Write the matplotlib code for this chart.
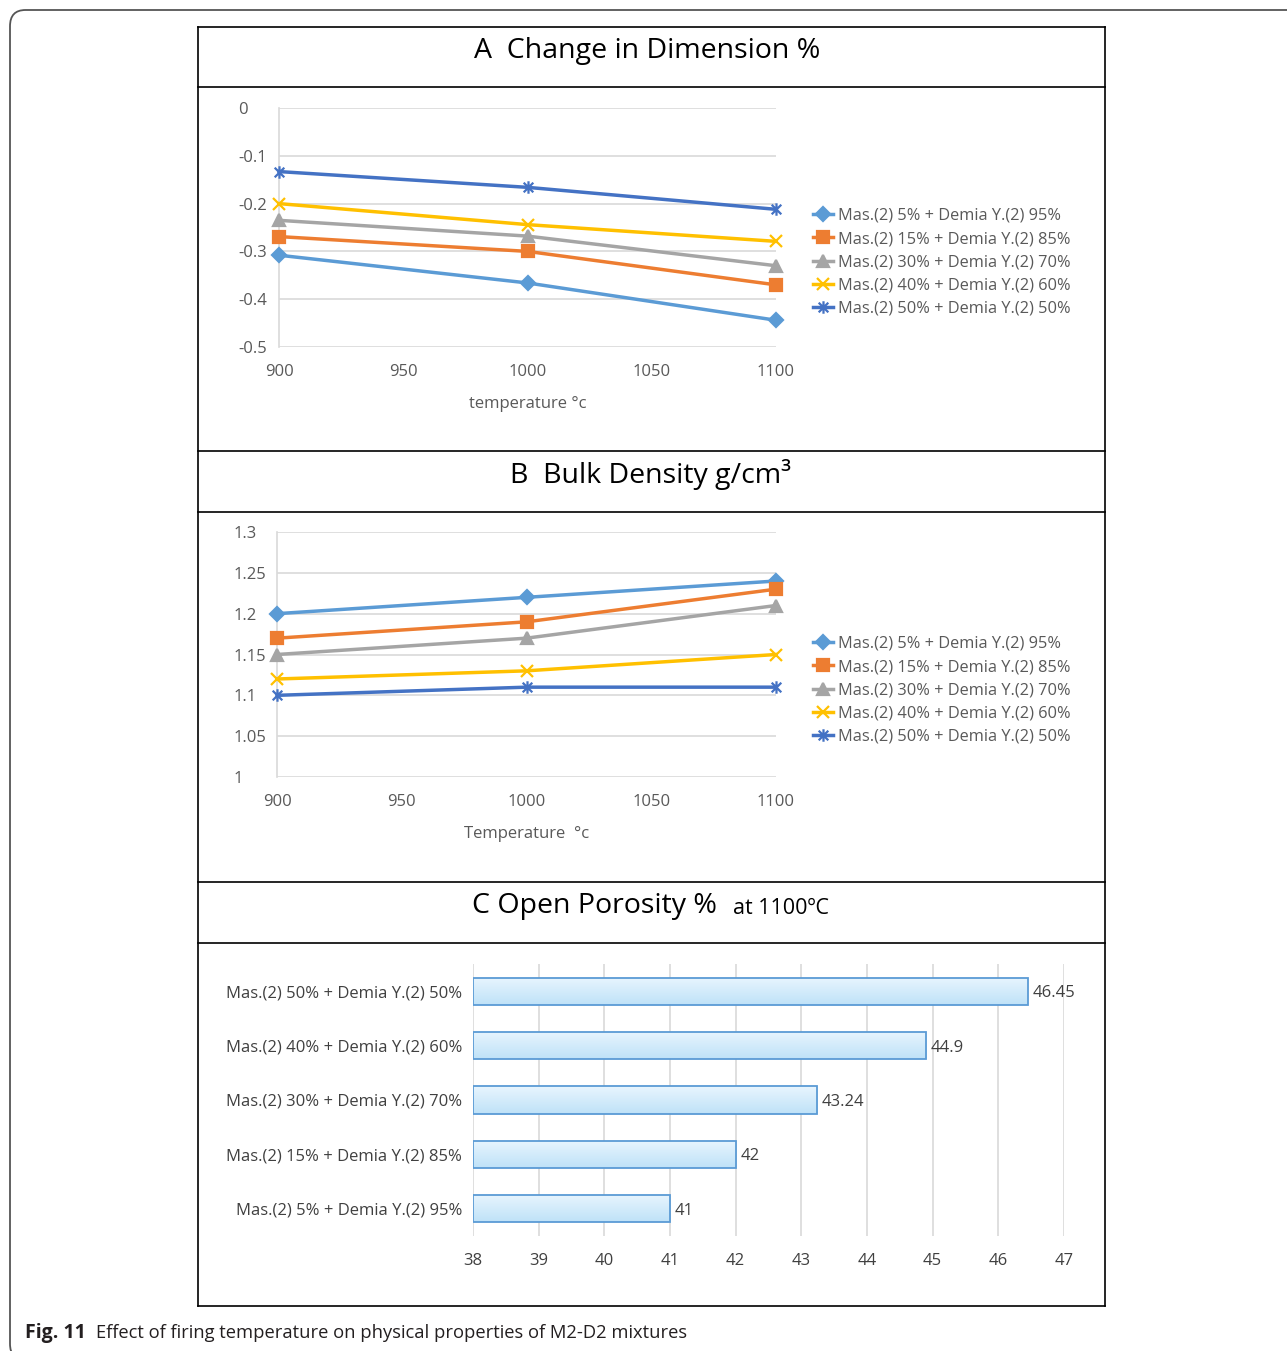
import matplotlib.pyplot as plt
import numpy as np
from matplotlib.patches import FancyBboxPatch
from matplotlib.path import Path
from matplotlib.lines import Line2D
from matplotlib.colors import LinearSegmentedColormap

plt.rcParams['font.family'] = ['Open Sans', 'DejaVu Sans']

# data
temps = [900, 1000, 1100]
mixes = ["Mas.(2) 5% + Demia Y.(2) 95%",
         "Mas.(2) 15% + Demia Y.(2) 85%",
         "Mas.(2) 30% + Demia Y.(2) 70%",
         "Mas.(2) 40% + Demia Y.(2) 60%",
         "Mas.(2) 50% + Demia Y.(2) 50%"]
dim_change = [[-0.308, -0.366, -0.444],
              [-0.269, -0.300, -0.370],
              [-0.235, -0.268, -0.330],
              [-0.200, -0.244, -0.279],
              [-0.133, -0.166, -0.212]]
bulk_density = [[1.20, 1.22, 1.24],
                [1.17, 1.19, 1.23],
                [1.15, 1.17, 1.21],
                [1.12, 1.13, 1.15],
                [1.10, 1.11, 1.11]]
porosity = [41, 42, 43.24, 44.9, 46.45]

dim_ticks = [0, -0.1, -0.2, -0.3, -0.4, -0.5]
dens_ticks = [1, 1.05, 1.1, 1.15, 1.2, 1.25, 1.3]
por_ticks = list(range(38, 48))

colors = ['#5B9BD5', '#ED7D31', '#A5A5A5', '#FFC000', '#4472C4']
star = Path([(-1, -1), (1, 1), (-1, 1), (1, -1), (0, -1.3), (0, 1.3)],
            [Path.MOVETO, Path.LINETO, Path.MOVETO, Path.LINETO,
             Path.MOVETO, Path.LINETO])
markers = ['D', 's', '^', 'x', star]
msizes = [7.5, 8.5, 8.5, 9, 9]
grey = '#595959'
grid_c = '#D9D9D9'
tick_fs = 12

W, H = 1287, 1351
fig = plt.figure(figsize=(W / 100, H / 100), dpi=100)


def px_axes(x0, y0, x1, y1):
    # axes from pixel box (top-left origin)
    return fig.add_axes([x0 / W, 1 - y1 / H, (x1 - x0) / W, (y1 - y0) / H])


def fy(y):
    return 1 - y / H


# outer rounded frame and panel box
frame = FancyBboxPatch((10 / W, fy(1360)), 1300 / W, 1350 / H,
                       boxstyle="round,pad=0,rounding_size=0.012",
                       transform=fig.transFigure, fill=False,
                       ec='#555555', lw=1.3, clip_on=False)
fig.patches.append(frame)
for y in [27, 87, 451, 512, 882, 943, 1306]:
    fig.add_artist(Line2D([198 / W, 1105 / W], [fy(y), fy(y)], color='black', lw=1.2))
for x in [198, 1105]:
    fig.add_artist(Line2D([x / W, x / W], [fy(27), fy(1306)], color='black', lw=1.2))

# panel titles
fig.text(647 / W, fy(51), "A  Change in Dimension %", ha='center', va='center',
         fontsize=20.5, color='black')
fig.text(651 / W, fy(475), "B  Bulk Density g/cm³", ha='center', va='center',
         fontsize=20.5, color='black')
fig.text(472 / W, fy(906), "C Open Porosity %", ha='left', va='center',
         fontsize=20.5, color='black')
fig.text(733 / W, fy(909), "at 1100ºC", ha='left', va='center',
         fontsize=15.5, color='black')

# caption
fig.text(25 / W, fy(1333), "Fig. 11", ha='left', va='center', fontsize=14,
         fontweight='bold', color='#231F20')
fig.text(96 / W, fy(1333), "Effect of firing temperature on physical properties of M2-D2 mixtures",
         ha='left', va='center', fontsize=13.2, color='#231F20')


def line_panel(ax, data, yticks, ylim, xlabel, leg_top, ypad):
    for i, series in enumerate(data):
        ax.plot(temps, series, color=colors[i], lw=2.5, marker=markers[i],
                ms=msizes[i], mew=1.6, mfc=colors[i], mec=colors[i],
                label=mixes[i], zorder=3, clip_on=False)
    ax.set_xlim(900, 1100)
    ax.set_ylim(*ylim)
    ax.set_xticks([900, 950, 1000, 1050, 1100])
    ax.set_yticks(yticks)
    ax.set_yticklabels([f"{v:g}" for v in yticks])
    ax.grid(axis='y', color=grid_c, lw=1.2)
    ax.set_axisbelow(True)
    for s in ['top', 'right', 'bottom']:
        ax.spines[s].set_visible(False)
    ax.spines['left'].set_color(grid_c)
    ax.spines['left'].set_linewidth(1.2)
    ax.tick_params(length=0, labelsize=tick_fs, colors=grey)
    ax.tick_params(axis='x', pad=12)
    ax.tick_params(axis='y', pad=ypad)
    for lab in ax.get_yticklabels():
        lab.set_ha('left')
    ax.set_xlabel(xlabel, fontsize=tick_fs, color=grey, labelpad=12)
    ax.legend(loc='upper left', bbox_to_anchor=(813 / W, fy(leg_top)),
              bbox_transform=fig.transFigure, frameon=False, fontsize=11.8,
              labelcolor=grey, handlelength=1.2, handletextpad=0.3,
              labelspacing=0.44, borderaxespad=0, borderpad=0)


axA = px_axes(279, 108, 776, 347)
line_panel(axA, dim_change, dim_ticks, (-0.5, 0), "temperature °c", 208, 29.5)

axB = px_axes(277, 532, 776, 777)
line_panel(axB, bulk_density, dens_ticks, (1, 1.3), "Temperature  °c", 636, 31)

# porosity bars
axC = px_axes(473, 964, 1064, 1236)
ypos = np.arange(len(porosity))
bars = axC.barh(ypos, [p - 38 for p in porosity], left=38, height=0.5,
                color='none', edgecolor='#5B9BD5', lw=1.3, zorder=3)
grad = np.linspace(0, 1, 64).reshape(-1, 1)
cmap = LinearSegmentedColormap.from_list('barfill', ['#BFE2F8', '#E8F5FE'])
for b in bars:
    x0, y0 = b.get_x(), b.get_y()
    im = axC.imshow(grad, extent=(x0, x0 + b.get_width(), y0, y0 + b.get_height()),
                    origin='lower', aspect='auto', cmap=cmap, zorder=2)
    im.set_clip_path(b)
for i, p in enumerate(porosity):
    axC.text(p + 0.07, i, f"{p:g}", va='center_baseline', ha='left', fontsize=12,
             color='#404040')
axC.set_xlim(38, 47)
axC.set_ylim(-0.5, 4.5)
axC.set_xticks(por_ticks)
axC.set_yticks(ypos)
axC.set_yticklabels(mixes, fontsize=11.8, color='#404040')
axC.grid(axis='x', color=grid_c, lw=1.2)
axC.set_axisbelow(True)
for s in axC.spines.values():
    s.set_visible(False)
axC.tick_params(length=0, labelsize=tick_fs, colors='#404040')
axC.tick_params(axis='x', pad=12)
axC.tick_params(axis='y', pad=8)

fig.savefig("out.png", dpi=100)
